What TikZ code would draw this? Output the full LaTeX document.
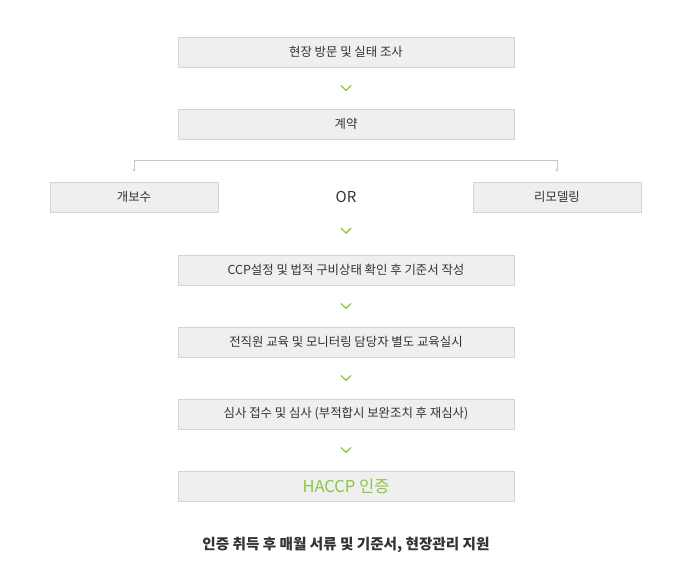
\documentclass[tikz,border=0pt]{standalone}
\usepackage{fontspec}
\setmainfont{Noto Sans CJK KR}
\usetikzlibrary{arrows.meta, positioning, calc}
\definecolor{boxfill}{HTML}{EFEFEF}
\definecolor{boxline}{HTML}{D4D4D4}
\definecolor{haccpgreen}{HTML}{8DC63F}
\definecolor{textgray}{HTML}{333333}

\begin{document}
\begin{tikzpicture}[x=1pt, y=-1pt,
      box/.style={draw=boxline, fill=boxfill, minimum height=30pt, minimum width=336pt, inner sep=0pt, text=textgray, font=\fontsize{12.4}{14}\selectfont},
      sidebox/.style={box, minimum width=168pt},
      link/.style={draw=black!22, line width=0.6pt},
      chevron/.style={draw=haccpgreen, line width=1.4pt}
    ]
      \useasboundingbox (0,0) rectangle (673,572);

      % Main steps, one column
      \node[box] (visit) at (346,52) {현장 방문 및 실태 조사};
      \node[box] (contract) at (346,124) {계약};

      % Two options side by side
      \node[sidebox] (repair) at (134,197) {개보수};
      \node[text=textgray, font=\fontsize{15}{17}\selectfont] (or) at (346,197) {OR};
      \node[sidebox] (remodel) at (557,197) {리모델링};

      \node[box] (ccp) at (346,270) {CCP설정 및 법적 구비상태 확인 후 기준서 작성};
      \node[box] (training) at (346,342) {전직원 교육 및 모니터링 담당자 별도 교육실시};
      \node[box] (audit) at (346,414) {심사 접수 및 심사 (부적합시 보완조치 후 재심사)};
      \node[box, text=haccpgreen, font=\fontsize{16.5}{18}\selectfont] (cert) at (346,486) {HACCP 인증};

      % Closing note under the last box
      \node[text=textgray, font=\bfseries\fontsize{14.6}{17}\selectfont] (support) at (346,545) {인증 취득 후 매월 서류 및 기준서, 현장관리 지원};

      % Fork line over the two options
      \coordinate (fork_y) at (0,160);
      \coordinate (fork_l) at (repair.north |- fork_y);
      \coordinate (fork_r) at (remodel.north |- fork_y);
      \draw[link] (fork_l) -- (fork_r);
      \draw[link, -{Stealth[length=3pt, width=3pt]}, shorten >=10pt] (fork_l) -- (repair.north);
      \draw[link, -{Stealth[length=3pt, width=3pt]}, shorten >=10pt] (fork_r) -- (remodel.north);

      % Green chevrons between the steps
      \foreach \a/\b in {visit/contract, or/ccp, ccp/training, training/audit, audit/cert} {
        \draw[chevron] ($(\a.south)!0.5!(\b.north)$) ++(-5,-2.5) -- ++(5,5) -- ++(5,-5);
      }
    \end{tikzpicture}
\end{document}
